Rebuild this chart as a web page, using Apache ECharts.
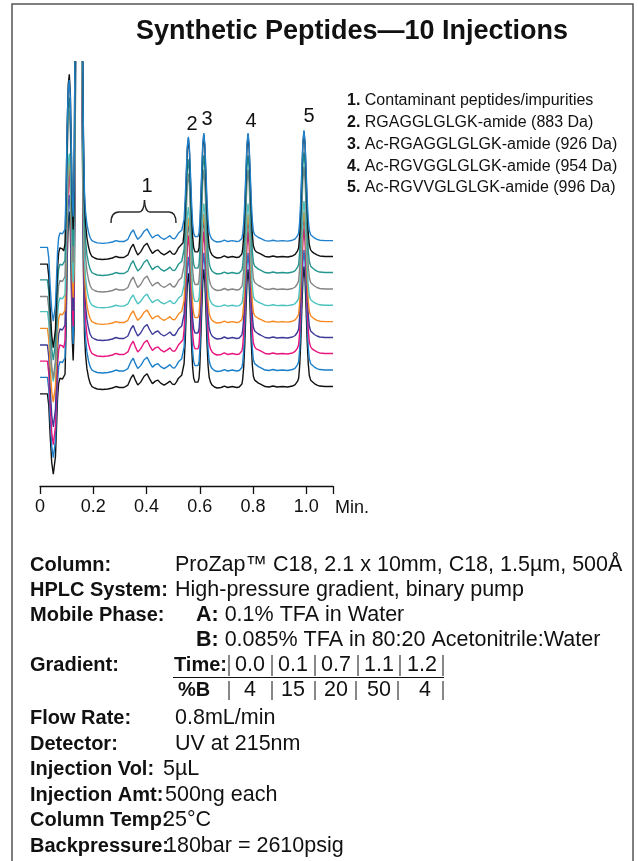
<!DOCTYPE html>
<html><head><meta charset="utf-8">
<script src="https://cdn.jsdelivr.net/npm/echarts@6/dist/echarts.min.js"></script>
<style>html,body{margin:0;padding:0;background:#fff}#c{width:638px;height:861px}</style>
</head><body><div id="c"></div>
<script>
// ---- data ----
// retention time (min) vs detector response (relative units) for a single injection profile
const profile = [
[0,-6],[0.028,-6],[0.033,-18],[0.038,-48],[0.044,-76],[0.050,-88],[0.054,-88],[0.058,-70],[0.062,-40],[0.066,-10],
[0.070,5],[0.075,10],[0.079,11],[0.084,9],[0.089,7],[0.094,14],[0.098,60],[0.102,130],[0.106,170],[0.110,180],
[0.114,160],[0.118,100],[0.121,50],[0.1245,28],[0.128,60],[0.132,250],[0.136,430],[0.155,430],[0.159,250],[0.163,120],
[0.167,55],[0.171,34],[0.176,20],[0.182,11],[0.188,5],[0.195,1.5],[0.205,0],[0.215,-1],[0.235,-1.5],[0.255,-1],
[0.272,0],[0.285,1.5],[0.298,0.5],[0.315,0.5],[0.330,3],[0.341,10],[0.350,13.5],[0.358,8],[0.367,3],[0.378,6],
[0.391,12],[0.402,14.5],[0.412,9],[0.422,4.5],[0.433,7],[0.443,8],[0.453,5],[0.466,3],[0.478,5],[0.488,7],
[0.497,4],[0.505,3.5],[0.512,6],[0.520,10],[0.527,12],[0.532,13],[0.537,15],[0.541,25],[0.545,47],[0.549,77],
[0.553,106],[0.557,117],[0.561,104],[0.565,75],[0.569,44],[0.573,21],[0.577,10],[0.582,6],[0.588,5],[0.593,6],
[0.597,10],[0.600,22],[0.603,45],[0.607,78],[0.611,108],[0.615,121],[0.619,108],[0.623,78],[0.627,46],[0.631,23],
[0.635,11],[0.640,6],[0.646,3],[0.655,1],[0.665,0],[0.680,0.5],[0.692,2],[0.705,0.5],[0.722,1.5],[0.738,0.5],
[0.748,1],[0.754,2],[0.758,4],[0.761,9],[0.765,22],[0.769,46],[0.773,78],[0.777,108],[0.781,121],[0.785,108],
[0.789,79],[0.793,47],[0.797,24],[0.801,12],[0.806,8],[0.812,6],[0.820,5],[0.828,4],[0.835,3],[0.845,1.5],
[0.860,1],[0.875,2],[0.890,1],[0.910,1.5],[0.930,1],[0.948,2],[0.958,3.5],[0.963,4.5],[0.967,7],[0.971,10],
[0.975,23],[0.979,47],[0.983,81],[0.987,111],[0.991,124],[0.995,111],[0.999,81],[1.003,48],[1.007,25],[1.011,13],
[1.016,8],[1.022,6],[1.030,4.5],[1.040,3],[1.050,2],[1.070,1.5],[1.100,1.5]
];
// stacked offset of each injection trace (top trace first) and its response factor
const traceOffsets = [244, 228, 212, 195.5, 179.5, 163, 147, 131, 114.5, 98];
const traceScales  = [0.90, 1.02, 0.98, 1.00, 0.85, 0.90, 1.00, 1.02, 0.98, 0.98];
const injectionNames = ['Inj 1','Inj 2','Inj 3','Inj 4','Inj 5','Inj 6','Inj 7','Inj 8','Inj 9','Inj 10'];
const xTickValues = [0, 0.2, 0.4, 0.6, 0.8, 1.0];
const peakNames = ['1','2','3','4','5'];
const legendItems = [
  ['1.', 'Contaminant peptides/impurities'],
  ['2.', 'RGAGGLGLGK-amide (883 Da)'],
  ['3.', 'Ac-RGAGGLGLGK-amide (926 Da)'],
  ['4.', 'Ac-RGVGGLGLGK-amide (954 Da)'],
  ['5.', 'Ac-RGVVGLGLGK-amide (996 Da)']
];
const gradientTime = ['0.0','0.1','0.7','1.1','1.2'];
const gradientB = ['4','15','20','50','4'];

// ---- styles ----
const traceColors = ['#1f80cc','#111111','#25958f','#858585','#4cc3c0','#f6891f','#3d3b98','#e8157f','#1a7fc8','#111111'];
const FF = 'Liberation Sans, Arial, Helvetica, sans-serif';
const INK = '#111';

const chart = echarts.init(document.getElementById('c'), null, {renderer: 'canvas'});

const series = traceOffsets.map((off, k) => ({
  name: injectionNames[k],
  type: 'line',
  data: profile.map(p => [p[0], off + traceScales[k] * p[1]]),
  showSymbol: false,
  symbol: 'none',
  clip: true,
  lineStyle: {color: traceColors[k], width: 1.4},
  z: 20 - k,
  silent: true
})).reverse();

function txt(x, y, text, size, weight, align, rich, sx) {
  const st = {text: text, fontSize: size, fontFamily: FF, fontWeight: weight || 'normal', fill: INK, align: align || 'left', verticalAlign: 'middle'};
  if (rich) st.rich = rich;
  const el = {type: 'text', x: x, y: y, style: st};
  if (sx) el.scaleX = sx;
  return el;
}

const g = [];
// frame
g.push({type: 'rect', shape: {x: 12, y: 4, width: 621, height: 880}, style: {fill: 'none', stroke: '#555', lineWidth: 1.5}, z: 1});
// title
g.push(txt(352, 32, 'Synthetic Peptides\u201410 Injections', 27, 'bold', 'center'));
// legend
legendItems.forEach((it, i) => {
  g.push(txt(347, 101 + i * 21.7, '{b|' + it[0] + '} ' + it[1], 16, 'normal', 'left',
    {b: {fontSize: 16, fontFamily: FF, fontWeight: 'bold', fill: INK}}));
});
// peak labels
const peakLabelPos = [[147, 186], [192, 124], [207, 119], [251, 121], [309, 116]];
peakNames.forEach((n, i) => g.push(txt(peakLabelPos[i][0], peakLabelPos[i][1], n, 20, 'normal', 'center')));
// brace over impurity region
const braceStyle = {fill: 'none', stroke: '#222', lineWidth: 1.4};
g.push({type: 'bezierCurve', shape: {x1: 111, y1: 223, x2: 119, y2: 212, cpx1: 111, cpy1: 212}, style: braceStyle});
g.push({type: 'line', shape: {x1: 119, y1: 212, x2: 139, y2: 212}, style: braceStyle});
g.push({type: 'bezierCurve', shape: {x1: 139, y1: 212, x2: 144.5, y2: 200, cpx1: 144, cpy1: 212}, style: braceStyle});
g.push({type: 'bezierCurve', shape: {x1: 144.5, y1: 200, x2: 150, y2: 212, cpx1: 145, cpy1: 212}, style: braceStyle});
g.push({type: 'line', shape: {x1: 150, y1: 212, x2: 169, y2: 212}, style: braceStyle});
g.push({type: 'bezierCurve', shape: {x1: 169, y1: 212, x2: 176, y2: 223, cpx1: 176, cpy1: 212}, style: braceStyle});
// axis unit
g.push(txt(335, 508, 'Min.', 18, 'normal', 'left'));

// info block
const FS = 21.5, LS = 20;
const boldRich = {b: {fontSize: FS, fontFamily: FF, fontWeight: 'bold', fill: INK}};
const rows = [
  ['Column:', 'ProZap\u2122 C18, 2.1 x 10mm, C18, 1.5\u00b5m, 500\u00c5', 175, 565],
  ['HPLC System:', 'High-pressure gradient, binary pump', 175, 590],
  ['Mobile Phase:', '{b|A:} 0.1% TFA in Water', 196, 615],
  ['', '{b|B:} 0.085% TFA in 80:20 Acetonitrile:Water', 196, 640],
  ['Gradient:', '', 175, 665],
  ['Flow Rate:', '0.8mL/min', 175, 718],
  ['Detector:', 'UV at 215nm', 175, 744],
  ['Injection Vol:', '5\u00b5L', 163, 769],
  ['Injection Amt:', '500ng each', 165, 795],
  ['Column Temp:', '25\u00b0C', 163, 820],
  ['Backpressure:', '180bar = 2610psig', 165, 846]
];
rows.forEach(r => {
  if (r[0]) g.push(txt(30, r[3], r[0], LS, 'bold', 'left'));
  if (r[1]) g.push(txt(r[2], r[3], r[1], FS, 'normal', 'left', boldRich));
});
// gradient table
const tY1 = 665, tY2 = 690;
g.push(txt(174, tY1, 'Time:', LS, 'bold', 'left'));
g.push(txt(178, tY2, '%B', LS, 'bold', 'left'));
const colCenters = [250, 293, 336, 379, 422];
const bars1 = [229, 272, 315, 358, 400, 443];
const bars2 = [229, 272, 315, 356, 398, 443];
gradientTime.forEach((v, i) => g.push(txt(colCenters[i], tY1, v, FS, 'normal', 'center')));
gradientB.forEach((v, i) => g.push(txt(colCenters[i] + (i === 4 ? 3 : 0), tY2, v, FS, 'normal', 'center')));
bars1.forEach(x => g.push({type: 'line', shape: {x1: x, y1: 655, x2: x, y2: 676}, style: {stroke: INK, lineWidth: 1}}));
bars2.forEach(x => g.push({type: 'line', shape: {x1: x, y1: 681, x2: x, y2: 700}, style: {stroke: INK, lineWidth: 1}}));
g.push({type: 'line', shape: {x1: 173, y1: 677.5, x2: 444, y2: 677.5}, style: {stroke: INK, lineWidth: 1.2}});

chart.setOption({
  animation: false,
  backgroundColor: '#fff',
  grid: {left: 40, right: 305, top: 62, bottom: 375, containLabel: false, outerBoundsMode: 'none'},
  xAxis: {
    type: 'value', min: 0, max: 1.1, interval: 0.2,
    axisLine: {lineStyle: {color: INK, width: 1.3}},
    axisTick: {length: 8, lineStyle: {color: INK, width: 1.3}},
    axisLabel: {fontSize: 18, color: INK, fontFamily: FF, margin: 12,
      formatter: v => (xTickValues.some(t => Math.abs(t - v) < 1e-6) ? (v === 0 ? '0' : v.toFixed(1)) : '')},
    splitLine: {show: false}
  },
  yAxis: {type: 'value', min: 0, max: 424, show: false, splitLine: {show: false}},
  series: series,
  graphic: g
});
</script></body></html>
